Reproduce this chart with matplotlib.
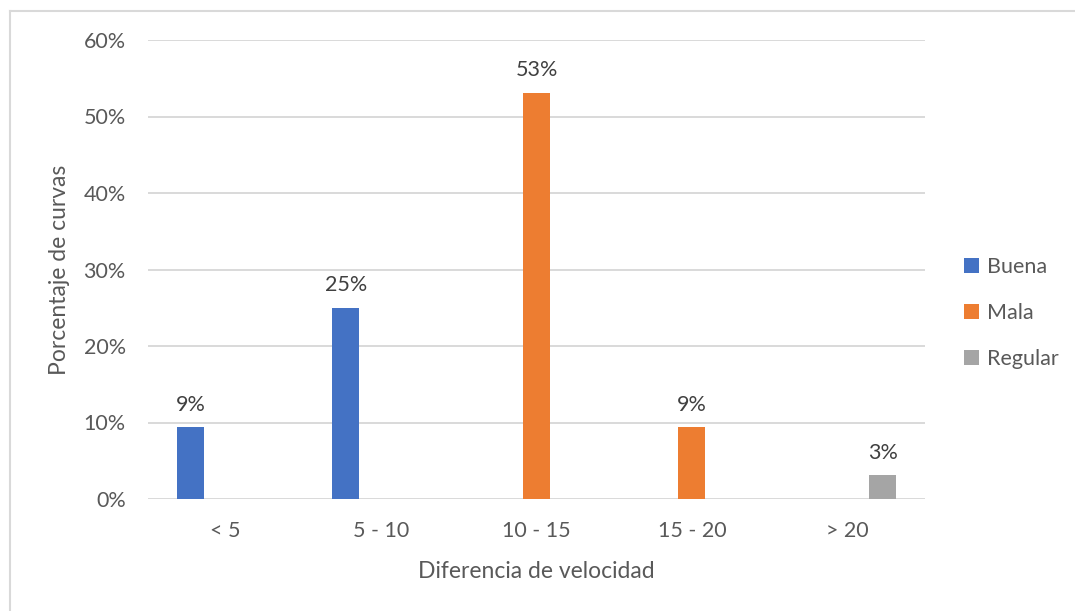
import numpy as np
import matplotlib
matplotlib.use("Agg")
from matplotlib import pyplot as plt
from matplotlib.lines import Line2D
from matplotlib.ticker import PercentFormatter

plt.rcParams['font.family'] = ['Lato', 'DejaVu Sans']

categories = ["< 5", "5 - 10", "10 - 15", "15 - 20", "> 20"]
series_names = ["Buena", "Mala", "Regular"]
buena = [9.375, 25.0, 0, 0, 0]
mala = [0, 0, 53.125, 9.375, 0]
regular = [0, 0, 0, 0, 3.125]
colors = ["#4472C4", "#ED7D31", "#A5A5A5"]
text_col = "#595959"

fig = plt.figure(figsize=(10.75, 6.11), dpi=100)
ax = fig.add_axes([148 / 1075, 1 - 499 / 611, 777 / 1075, 459 / 611])

x = np.arange(len(categories))
offsets = [-0.227, 0.0, 0.227]
width = 0.174
for vals, off, col, name in zip([buena, mala, regular], offsets, colors, series_names):
    bars = ax.bar(x + off, vals, width, color=col, label=name, zorder=3)
    for b, v in zip(bars, vals):
        if v > 0:
            ax.annotate(f"{v:.0f}%", (b.get_x() + b.get_width() / 2, v),
                        xytext=(0, 9), textcoords="offset points",
                        ha="center", va="bottom", fontsize=15.5, color="#404040")

ax.set_xlim(-0.5, 4.5)
ax.set_ylim(0, 60)
ax.set_yticks(np.arange(0, 61, 10))
ax.yaxis.set_major_formatter(PercentFormatter(decimals=0))
ax.set_xticks(x)
ax.set_xticklabels(categories)
ax.tick_params(axis="both", length=0, labelsize=15.5, labelcolor=text_col)
ax.tick_params(axis="x", pad=16)
ax.tick_params(axis="y", pad=16)
ax.grid(axis="y", color="#D9D9D9", lw=1.4, zorder=0)
for s in ax.spines.values():
    s.set_visible(False)

ax.set_xlabel("Diferencia de velocidad", fontsize=16.5, color=text_col, labelpad=14)
ax.set_ylabel("Porcentaje de curvas", fontsize=16.5, color=text_col, labelpad=10)

ax.legend(loc="center left", bbox_to_anchor=((945 - 148) / 777, 0.5 - (313 - 269.5) / 459),
          frameon=False, fontsize=15.5, labelcolor=text_col, handlelength=0.7,
          handleheight=0.7, handletextpad=0.35, labelspacing=1.2)

# chart frame (Excel border, partly cropped)
fig.add_artist(Line2D([10 / 1075, 1], [1 - 11 / 611, 1 - 11 / 611], color="#D9D9D9", lw=1.5))
fig.add_artist(Line2D([10 / 1075, 10 / 1075], [0, 1 - 11 / 611], color="#D9D9D9", lw=1.5))

fig.savefig("out.png", dpi=100)
